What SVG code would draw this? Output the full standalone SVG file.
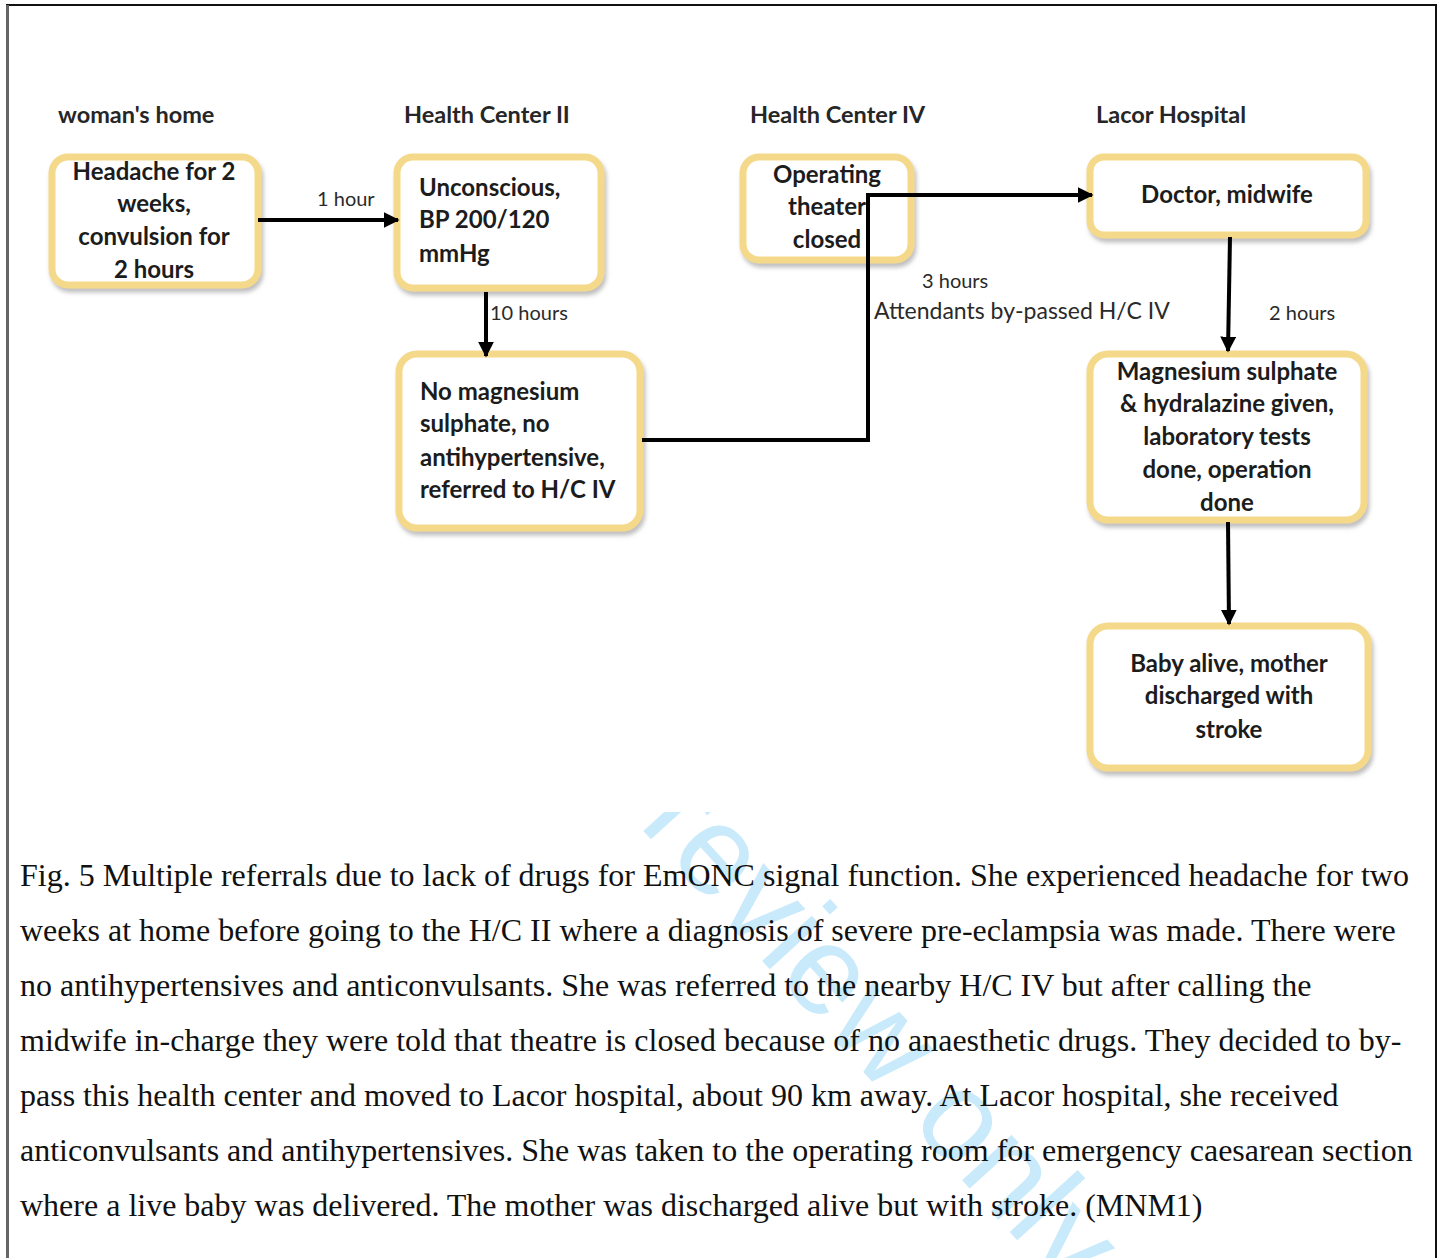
<svg xmlns="http://www.w3.org/2000/svg" width="1442" height="1258" viewBox="0 0 1442 1258">
  <defs>
    <style>
      .box { fill: #ffffff; stroke: #f5d98a; stroke-width: 7; filter: url(#shadow); }
      .txt { font-family: Lato, "Liberation Sans", sans-serif; font-weight: bold; font-size: 24px; fill: #1c1c1c; }
      .mid { text-anchor: middle; }
      .head { font-family: Lato, "Liberation Sans", sans-serif; font-weight: bold; font-size: 23.5px; fill: #262626; }
      .lbl { font-family: Lato, "Liberation Sans", sans-serif; font-size: 20px; fill: #2a2a2a; }
      .lbl2 { font-family: Lato, "Liberation Sans", sans-serif; font-size: 23px; fill: #2a2a2a; }
      .edge { fill: none; stroke: #000000; stroke-width: 4; marker-end: url(#arrow); }
      .cap { font-family: "Liberation Serif", "Times New Roman", serif; font-size: 32px; fill: #111111; }
      .wm { font-family: "Liberation Sans", Arial, sans-serif; font-size: 127px; fill: #c9eafb; }
    </style>
    <filter id="shadow" x="-10%" y="-10%" width="125%" height="130%">
      <feDropShadow dx="2" dy="4" stdDeviation="2" flood-color="#8a8a8a" flood-opacity="0.55"/>
    </filter>
    <marker id="arrow" viewBox="0 0 10 10" refX="9" refY="5" markerWidth="4" markerHeight="4" orient="auto" markerUnits="strokeWidth">
      <path d="M0,0 L10,5 L0,10 z" fill="#000000"/>
    </marker>
    <clipPath id="captionArea">
      <rect x="0" y="812" width="1442" height="446"/>
    </clipPath>
  </defs>

  <rect x="0" y="0" width="1442" height="1258" fill="#ffffff"/>

  <!-- diagonal watermark behind the caption -->
  <g clip-path="url(#captionArea)">
    <text class="wm" transform="translate(290,444) rotate(47.6)" x="0" y="0">For peer review only</text>
  </g>

  <!-- page frame -->
  <line x1="6" y1="5" x2="1437" y2="5" stroke="#111111" stroke-width="2"/>
  <line x1="7.5" y1="5" x2="7.5" y2="1258" stroke="#666666" stroke-width="3"/>
  <line x1="1436" y1="5" x2="1436" y2="1258" stroke="#111111" stroke-width="2"/>

  <!-- column headings -->
  <g id="headings">
    <text class="head" x="58" y="123">woman's home</text>
    <text class="head" x="404" y="123">Health Center II</text>
    <text class="head" x="750" y="123">Health Center IV</text>
    <text class="head" x="1096" y="123">Lacor Hospital</text>
  </g>

  <g id="node-home">
    <rect class="box" x="52" y="157" width="206" height="128" rx="16"/>
    <text class="txt mid" x="154" y="180">Headache for 2</text>
    <text class="txt mid" x="154" y="212">weeks,</text>
    <text class="txt mid" x="154" y="245">convulsion for</text>
    <text class="txt mid" x="154" y="278">2 hours</text>
  </g>

  <g id="node-unconscious">
    <rect class="box" x="397" y="157" width="204" height="131" rx="16"/>
    <text class="txt" x="419" y="196">Unconscious,</text>
    <text class="txt" x="419" y="228">BP 200/120</text>
    <text class="txt" x="419" y="262">mmHg</text>
  </g>

  <g id="node-nodrugs">
    <rect class="box" x="399" y="354" width="241" height="174" rx="18"/>
    <text class="txt" x="420" y="400">No magnesium</text>
    <text class="txt" x="420" y="432">sulphate, no</text>
    <text class="txt" x="420" y="466">antihypertensive,</text>
    <text class="txt" x="420" y="498">referred to H/C IV</text>
  </g>

  <g id="node-theater">
    <rect class="box" x="743" y="157" width="168" height="103" rx="16"/>
    <text class="txt mid" x="827" y="183">Operating</text>
    <text class="txt mid" x="827" y="215">theater</text>
    <text class="txt mid" x="827" y="248">closed</text>
  </g>

  <g id="node-lacor">
    <rect class="box" x="1090" y="157" width="276" height="78" rx="14"/>
    <text class="txt mid" x="1227" y="203">Doctor, midwife</text>
  </g>

  <g id="node-treatment">
    <rect class="box" x="1090" y="354" width="274" height="166" rx="18"/>
    <text class="txt mid" x="1227" y="380">Magnesium sulphate</text>
    <text class="txt mid" x="1227" y="412">&amp; hydralazine given,</text>
    <text class="txt mid" x="1227" y="445">laboratory tests</text>
    <text class="txt mid" x="1227" y="478">done, operation</text>
    <text class="txt mid" x="1227" y="511">done</text>
  </g>

  <g id="node-outcome">
    <rect class="box" x="1090" y="626" width="278" height="142" rx="18"/>
    <text class="txt mid" x="1229" y="672">Baby alive, mother</text>
    <text class="txt mid" x="1229" y="704">discharged with</text>
    <text class="txt mid" x="1229" y="738">stroke</text>
  </g>

  <!-- connectors and their labels -->
  <g id="connectors">
    <path class="edge" d="M258,220 L398,220"/>
    <path class="edge" d="M486,292 L486,356"/>
    <path class="edge" d="M642,440 L868,440 L868,195 L1092,195"/>
    <path class="edge" d="M1230,237 L1228,351"/>
    <path class="edge" d="M1228,522 L1229,624"/>
    <text class="lbl" x="317" y="206">1 hour</text>
    <text class="lbl" x="490" y="320">10 hours</text>
    <text class="lbl" x="922" y="288">3 hours</text>
    <text class="lbl2" x="874" y="319">Attendants by-passed H/C IV</text>
    <text class="lbl" x="1269" y="320">2 hours</text>
  </g>

  <!-- caption -->
  <g id="caption">
    <text class="cap" x="20" y="886">Fig. 5 Multiple referrals due to lack of drugs for EmONC signal function. She experienced headache for two</text>
    <text class="cap" x="20" y="941">weeks at home before going to the H/C II where a diagnosis of severe pre-eclampsia was made. There were</text>
    <text class="cap" x="20" y="996">no antihypertensives and anticonvulsants. She was referred to the nearby H/C IV but after calling the</text>
    <text class="cap" x="20" y="1051">midwife in-charge they were told that theatre is closed because of no anaesthetic drugs. They decided to by-</text>
    <text class="cap" x="20" y="1106">pass this health center and moved to Lacor hospital, about 90 km away. At Lacor hospital, she received</text>
    <text class="cap" x="20" y="1161">anticonvulsants and antihypertensives. She was taken to the operating room for emergency caesarean section</text>
    <text class="cap" x="20" y="1216">where a live baby was delivered. The mother was discharged alive but with stroke. (MNM1)</text>
  </g>
</svg>
